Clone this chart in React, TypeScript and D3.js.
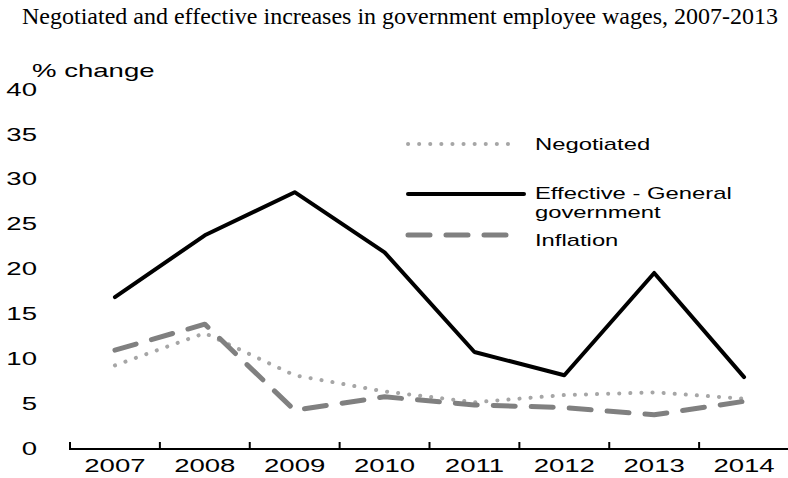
import { useEffect, useRef } from "react";
import * as d3 from "d3";

const years = ["2007", "2008", "2009", "2010", "2011", "2012", "2013", "2014"];
const negotiated = [9.2, 12.8, 8.1, 6.3, 5.1, 5.9, 6.2, 5.5];
const effective = [16.8, 23.7, 28.5, 21.8, 10.7, 8.1, 19.5, 7.9];
const inflation = [10.9, 13.8, 4.2, 5.7, 4.8, 4.5, 3.7, 5.2];
const yTicks = [0, 5, 10, 15, 20, 25, 30, 35, 40];

const W = 788;
const H = 478;
const font = "'Liberation Sans', Arial, sans-serif";
// the source text is drawn wider than normal Arial
const STRETCH = 1.45;

const series = [
  { name: ["Negotiated"], values: negotiated, color: "#a6a6a6", width: 4, dash: "0.1,11", cap: "round" },
  { name: ["Effective - General", "government"], values: effective, color: "#000", width: 4, dash: "none", cap: "round" },
  { name: ["Inflation"], values: inflation, color: "#808080", width: 5, dash: "22,16", cap: "round" },
];

function stretch(sel: d3.Selection<any, any, any, any>, k = STRETCH) {
  sel.each(function (this: SVGTextElement) {
    const w = this.getComputedTextLength();
    d3.select(this).attr("textLength", w * k).attr("lengthAdjust", "spacingAndGlyphs");
  });
}

export default function App() {
  const ref = useRef<SVGSVGElement>(null);

  useEffect(() => {
    const svg = d3.select(ref.current);
    svg.selectAll("*").remove();

    const x = d3.scaleBand().domain(years).range([70, 789]);
    const y = d3.scaleLinear().domain([0, 40]).range([448, 89]);

    // title
    svg
      .append("text")
      .attr("x", 400)
      .attr("y", 24)
      .attr("text-anchor", "middle")
      .style("font-family", "'Liberation Serif', 'Times New Roman', serif")
      .style("font-size", "24px")
      .text("Negotiated and effective increases in government employee wages, 2007-2013");

    // y labels, no axis line
    const yl = svg
      .append("g")
      .selectAll("text")
      .data(yTicks)
      .join("text")
      .attr("x", 37)
      .attr("y", (d) => y(d))
      .attr("dy", "0.35em")
      .attr("text-anchor", "end")
      .style("font-family", font)
      .style("font-size", "19px")
      .text((d) => d);
    stretch(yl);

    const unit = svg
      .append("text")
      .attr("x", 32)
      .attr("y", 77)
      .style("font-family", font)
      .style("font-size", "19px")
      .text("% change");
    stretch(unit);

    // x axis with ticks at category boundaries
    const bounds = years.map((d) => x(d)!).concat([x.range()[1]]);
    const xg = svg.append("g");
    xg.append("line")
      .attr("x1", x.range()[0])
      .attr("x2", x.range()[1])
      .attr("y1", 449)
      .attr("y2", 449)
      .attr("stroke", "#000")
      .attr("stroke-width", 2);
    xg.selectAll("line.tick")
      .data(bounds)
      .join("line")
      .attr("class", "tick")
      .attr("x1", (d) => d)
      .attr("x2", (d) => d)
      .attr("y1", 450)
      .attr("y2", 442)
      .attr("stroke", "#000")
      .attr("stroke-width", 2);
    const xl = xg
      .selectAll("text")
      .data(years)
      .join("text")
      .attr("x", (d) => x(d)! + x.bandwidth() / 2)
      .attr("y", 472)
      .attr("text-anchor", "middle")
      .style("font-family", font)
      .style("font-size", "19px")
      .text((d) => d);
    stretch(xl);

    const line = d3
      .line<number>()
      .x((_, i) => x(years[i])! + x.bandwidth() / 2)
      .y((d) => y(d));

    series.forEach((s) => {
      svg
        .append("path")
        .attr("d", line(s.values))
        .attr("fill", "none")
        .attr("stroke", s.color)
        .attr("stroke-width", s.width)
        .attr("stroke-dasharray", s.dash)
        .attr("stroke-linecap", s.cap)
        .attr("stroke-linejoin", "round");
    });

    // legend
    const lineY = [144, 194, 235];
    const textY = [150, 199, 246];
    const lg = svg.append("g");
    series.forEach((s, i) => {
      lg.append("line")
        .attr("x1", 408)
        .attr("x2", s.dash === "none" ? 524 : 516)
        .attr("y1", lineY[i])
        .attr("y2", lineY[i])
        .attr("stroke", s.color)
        .attr("stroke-width", s.width)
        .attr("stroke-dasharray", s.dash)
        .attr("stroke-linecap", s.cap);
      s.name.forEach((t, j) => {
        const tx = lg
          .append("text")
          .attr("x", 535)
          .attr("y", textY[i] + j * 19)
          .style("font-family", font)
          .style("font-size", "17px")
          .text(t);
        stretch(tx, 1.4);
      });
    });
  }, []);

  return (
    <svg
      ref={ref}
      width={W}
      height={H}
      style={{ position: "absolute", left: 0, top: 0, background: "#fff" }}
    />
  );
}
